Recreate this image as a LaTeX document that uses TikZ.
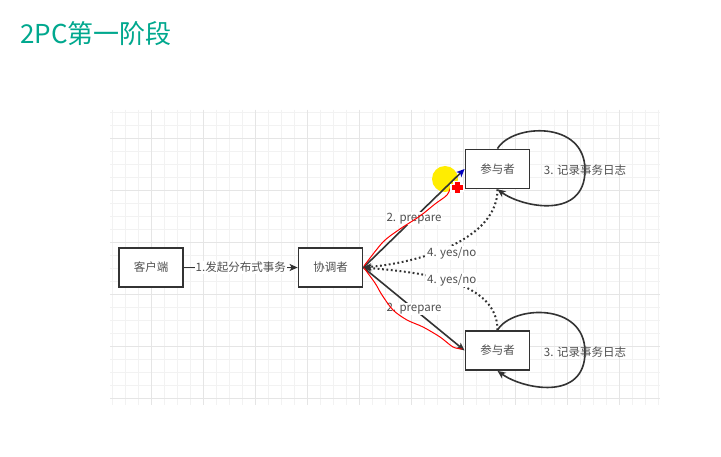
\documentclass[tikz,border=0pt]{standalone}
\usepackage{fontspec}
\setmainfont{Noto Sans CJK SC}
\usetikzlibrary{arrows.meta}
\definecolor{titlegreen}{RGB}{0,168,142}
\definecolor{inkgray}{RGB}{51,51,51}
\definecolor{txtgray}{RGB}{80,80,80}
\begin{document}
\begin{tikzpicture}[x=1pt,y=-1pt,
  box/.style={draw=inkgray,fill=white,line width=1.8pt,minimum width=64pt,minimum height=39pt,inner sep=0pt,text=txtgray,font=\fontsize{11.5}{13}\selectfont},
  link/.style={draw=inkgray,line width=1.6pt,-{Stealth[length=8pt,width=7pt,inset=2pt]}},
  reply/.style={link,line width=2pt,dash pattern=on 1.8pt off 2.6pt},
  lbl/.style={text=txtgray,font=\fontsize{11.5}{13}\selectfont,inner sep=1pt},
  minor/.style={black!5,line width=0.6pt},
  major/.style={black!10,line width=0.8pt},
  scribble/.style={red,line width=1pt,line cap=round,line join=round}]
  \useasboundingbox[fill=white] (0,0) rectangle (721,457);
  % Title
  \node[anchor=west,inner sep=0pt,text=titlegreen,font=\fontsize{26}{30}\selectfont] (title) at (20,34) {2PC第一阶段};
  % Grid
  \foreach \x in {112,125,...,658} \draw[minor] (\x,110) -- (\x,405);
  \foreach \y in {112,125,...,398} \draw[minor] (110,\y) -- (660,\y);
  \foreach \x in {151,203,...,619} \draw[major] (\x,110) -- (\x,405);
  \foreach \y in {138,190,...,398} \draw[major] (110,\y) -- (660,\y);
  % Cursor highlight
  \fill[yellow!95!orange] (445,179) circle (13);
  % Boxes
  \node[box] (client) at (151,267.5) {客户端};
  \node[box] (coord) at (330.5,267.5) {协调者};
  \node[box] (partup) at (497.5,169) {参与者};
  \node[box] (partdown) at (497.5,350.5) {参与者};
  % Request
  \draw[link] (client) -- node[lbl,fill=white] {1.发起分布式事务} (coord);
  % Prepare
  \draw[link,-{Stealth[length=8pt,width=7pt,inset=2pt,color=blue!75!black]}] (coord.east) -- node[lbl,fill=white] {2. prepare} (partup.west);
  \draw[link] (coord.east) -- node[lbl,fill=white] {2. prepare} (partdown.west);
  % Log
  \draw[link] (partup.north) .. controls +(15,-25) and +(0,-50) .. (585,170) node[lbl] {3. 记录事务日志} .. controls +(0,50) and +(25,18) .. (partup.south);
  \draw[link] (partdown.north) .. controls +(15,-25) and +(0,-50) .. (585,352) node[lbl] {3. 记录事务日志} .. controls +(0,50) and +(25,18) .. (partdown.south);
  % Votes
  \draw[reply] (partup.south) .. controls +(0,50) and +(57,-5) .. (coord.east) node[lbl,fill=white,pos=0.5,yshift=-8pt] {4. yes/no};
  \draw[reply] (partdown.north) .. controls +(0,-50) and +(57,5) .. (coord.east) node[lbl,fill=white,pos=0.5,yshift=2pt] {4. yes/no};
  % Red marks
  \draw[scribble] plot[smooth] coordinates {(364,266) (383,242) (400,229) (420,216) (435,204) (447,195) (451,186)};
  \draw[scribble] plot[smooth] coordinates {(364,268) (375,283) (382,295) (393,310) (407,320) (423,327) (440,337) (453,347) (462,349)};
  \fill[white] (450,184) rectangle (464,192);
  \fill[white] (453,181) rectangle (461,195);
  \fill[red] (451.5,185.5) rectangle (462.5,190.5);
  \fill[red] (454.5,182.5) rectangle (459.5,193.5);
\end{tikzpicture}
\end{document}
